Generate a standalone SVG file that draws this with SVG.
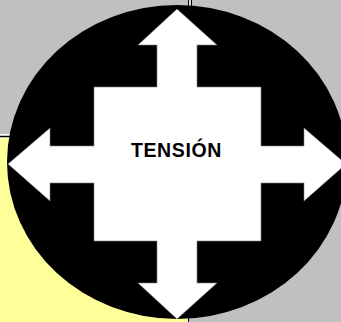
<svg xmlns="http://www.w3.org/2000/svg" width="341" height="322" viewBox="0 0 341 322">
  <style>
    .bg-gray { fill: #C0C0C0; }
    .bg-yellow { fill: #FFFF99; }
    .sep-dark { stroke: #000000; stroke-width: 1; }
    .sep-light { stroke: #FFFFFF; stroke-width: 1; }
    .disc { fill: #000000; }
    .cross { fill: #FFFFFF; stroke: #808080; stroke-width: 0.6; }
    .label { font-family: "Liberation Sans", Arial, sans-serif; font-weight: bold; font-size: 19.5px; fill: #000000; letter-spacing: 0.6px; }
  </style>
  <g id="background">
    <rect class="bg-gray" x="0" y="0" width="341" height="322"/>
    <rect class="bg-yellow" x="0" y="138" width="188" height="184"/>
    <line class="sep-light" x1="0" y1="134.5" x2="188" y2="134.5"/>
    <line class="sep-dark" x1="0" y1="136.5" x2="188" y2="136.5"/>
    <line class="sep-dark" x1="188.5" y1="0" x2="188.5" y2="136"/>
    <line class="sep-light" x1="189.8" y1="0" x2="189.8" y2="136"/>
    <line class="sep-dark" x1="191.5" y1="0" x2="191.5" y2="136"/>
    <line class="sep-dark" x1="188.5" y1="318" x2="188.5" y2="322"/>
  </g>
  <g id="tension-node">
    <ellipse class="disc" cx="177" cy="162" rx="170" ry="157"/>
    <path class="cross" d="M177,9 L217,45 L197,45 L197,87 L261,87 L261,146 L304,146 L304,128 L346,164 L304,201 L304,183 L261,183 L261,241 L197,241 L197,283 L217,283 L177,319 L138,283 L157,283 L157,241 L94,241 L94,183 L50,183 L50,201 L8,164 L50,128 L50,146 L94,146 L94,87 L157,87 L157,45 L138,45 Z"/>
    <text class="label" x="131" y="157">TENSIÓN</text>
  </g>
  <g id="connectors"></g>
</svg>
